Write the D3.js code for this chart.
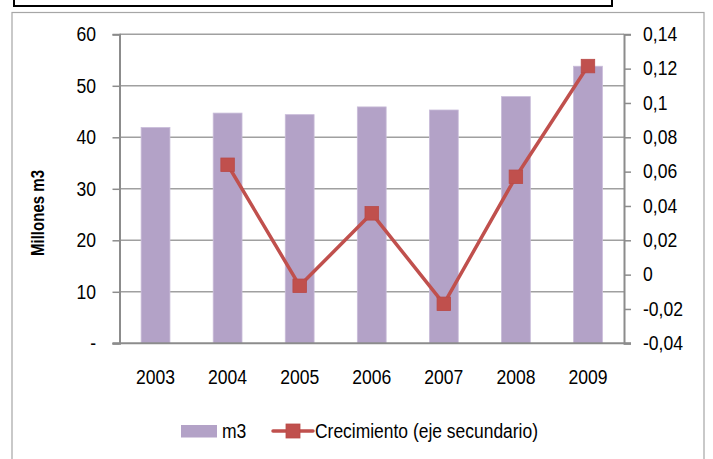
<!DOCTYPE html>
<html>
<head>
<meta charset="utf-8">
<script src="https://cdn.jsdelivr.net/npm/d3@7"></script>
<style>
  html, body { margin: 0; padding: 0; background: #fff; }
  svg { display: block; font-family: "Liberation Sans", Arial, sans-serif; }
</style>
</head>
<body>
<svg id="chart" width="713" height="459"></svg>
<script>
const years = ["2003", "2004", "2005", "2006", "2007", "2008", "2009"];
const volumes = [41.9, 44.7, 44.4, 45.9, 45.3, 47.9, 53.8];
const growthYears = ["2004", "2005", "2006", "2007", "2008", "2009"];
const growth = [0.064, -0.0065, 0.0357, -0.017, 0.057, 0.1215];
const leftTicks = [0, 10, 20, 30, 40, 50, 60];
const rightTicks = [-0.04, -0.02, 0, 0.02, 0.04, 0.06, 0.08, 0.1, 0.12, 0.14];
const yTitle = "Millones m3";
const legendBar = "m3";
const legendLine = "Crecimiento (eje secundario)";

const barColor = "#b3a2c7";
const lineColor = "#c0504d";
const gridColor = "#a0a0a0";
const axisColor = "#8c8c8c";
const fs = 19.5;
const squeeze = 0.9;

const svg = d3.select("#chart");
const plot = { left: 119.5, right: 624, top: 34.3, bottom: 343.3 };

function condense(sel, k) {
  sel.each(function () {
    const len = this.getComputedTextLength();
    d3.select(this).attr("textLength", len * k).attr("lengthAdjust", "spacingAndGlyphs");
  });
}

// outer frames
svg.append("rect").attr("x", 14).attr("y", -4).attr("width", 598).attr("height", 10)
  .attr("fill", "#fff").attr("stroke", "#000").attr("stroke-width", 2);
svg.append("rect").attr("x", 12).attr("y", 12.5).attr("width", 692).attr("height", 460)
  .attr("fill", "#fff").attr("stroke", "#a6a6a6").attr("stroke-width", 1.2);

const x = d3.scaleBand().domain(years).range([plot.left, plot.right])
  .paddingInner(0.6).paddingOuter(0.3);
const y = d3.scaleLinear().domain([0, 60]).range([plot.bottom, plot.top]);
const y2 = d3.scaleLinear().domain([-0.04, 0.14]).range([plot.bottom, plot.top]);

const loc = d3.formatLocale({ decimal: ",", thousands: ".", grouping: [3], currency: ["", ""], minus: "-" });
const f2 = loc.format(".2~f");

// gridlines
svg.append("g").selectAll("line").data(leftTicks.filter(d => d > 0)).join("line")
  .attr("x1", plot.left).attr("x2", plot.right)
  .attr("y1", d => y(d)).attr("y2", d => y(d))
  .attr("stroke", gridColor).attr("stroke-width", 1.5);

// bars
svg.append("g").selectAll("rect").data(years).join("rect")
  .attr("x", d => x(d)).attr("width", x.bandwidth())
  .attr("y", (d, i) => y(volumes[i])).attr("height", (d, i) => plot.bottom - y(volumes[i]))
  .attr("fill", barColor).attr("stroke", "#c9bcd9").attr("stroke-width", 0.8);

// left axis
const gl = svg.append("g").attr("transform", `translate(${plot.left},0)`)
  .call(d3.axisLeft(y).tickValues(leftTicks).tickSize(7).tickPadding(16.5)
    .tickFormat(d => d === 0 ? "-" : d));
// right axis
const gr = svg.append("g").attr("transform", `translate(${plot.right},0)`)
  .call(d3.axisRight(y2).tickValues(rightTicks).tickSize(7).tickPadding(12)
    .tickFormat(d => f2(d)));
[gl, gr].forEach(g => {
  g.select(".domain").attr("stroke", axisColor).attr("stroke-width", 2);
  g.selectAll(".tick line").attr("stroke", axisColor).attr("stroke-width", 1.5);
  g.selectAll(".tick text").attr("fill", "#000").attr("font-size", fs)
    .attr("font-family", "'Liberation Sans', Arial, sans-serif").call(condense, squeeze);
});
// bottom axis line
svg.append("line").attr("x1", plot.left - 7).attr("x2", plot.right + 7)
  .attr("y1", plot.bottom).attr("y2", plot.bottom)
  .attr("stroke", axisColor).attr("stroke-width", 2);

// x labels
const gx = svg.append("g").attr("transform", `translate(0,${plot.bottom})`)
  .call(d3.axisBottom(x).tickSize(0).tickPadding(27));
gx.select(".domain").remove();
gx.selectAll(".tick text").attr("fill", "#000").attr("font-size", fs)
  .attr("font-family", "'Liberation Sans', Arial, sans-serif").call(condense, squeeze);

// line series
const cx = d => x(d) + x.bandwidth() / 2;
const line = d3.line().x((d, i) => cx(growthYears[i])).y(d => y2(d));
svg.append("path").datum(growth).attr("d", line)
  .attr("fill", "none").attr("stroke", lineColor).attr("stroke-width", 3.5)
  .attr("stroke-linejoin", "round");
const ms = 13.5;
svg.append("g").selectAll("rect").data(growth).join("rect")
  .attr("x", (d, i) => cx(growthYears[i]) - ms / 2).attr("y", d => y2(d) - ms / 2)
  .attr("width", ms).attr("height", ms)
  .attr("fill", lineColor).attr("stroke", "#b94a47").attr("stroke-width", 0.8);

// y title
svg.append("text")
  .attr("transform", `translate(44,213) rotate(-90)`)
  .attr("text-anchor", "middle").attr("font-weight", "bold").attr("font-size", 19)
  .attr("fill", "#000").text(yTitle)
  .attr("textLength", 86).attr("lengthAdjust", "spacingAndGlyphs");

// legend
const ly = 431;
svg.append("rect").attr("x", 181).attr("y", 425).attr("width", 36).attr("height", 12.5).attr("fill", barColor);
svg.append("text").attr("x", 222).attr("y", ly + 7).attr("font-size", fs).attr("fill", "#000")
  .text(legendBar).call(condense, squeeze);
svg.append("line").attr("x1", 273).attr("x2", 313).attr("y1", ly).attr("y2", ly)
  .attr("stroke", lineColor).attr("stroke-width", 3.5).attr("stroke-linecap", "round");
svg.append("rect").attr("x", 293 - 7).attr("y", ly - 7).attr("width", 14).attr("height", 14)
  .attr("fill", lineColor).attr("stroke", "#b94a47").attr("stroke-width", 0.8);
svg.append("text").attr("x", 315).attr("y", ly + 7).attr("font-size", fs)
  .attr("fill", "#000").text(legendLine)
  .attr("textLength", 223).attr("lengthAdjust", "spacingAndGlyphs");
</script>
</body>
</html>
